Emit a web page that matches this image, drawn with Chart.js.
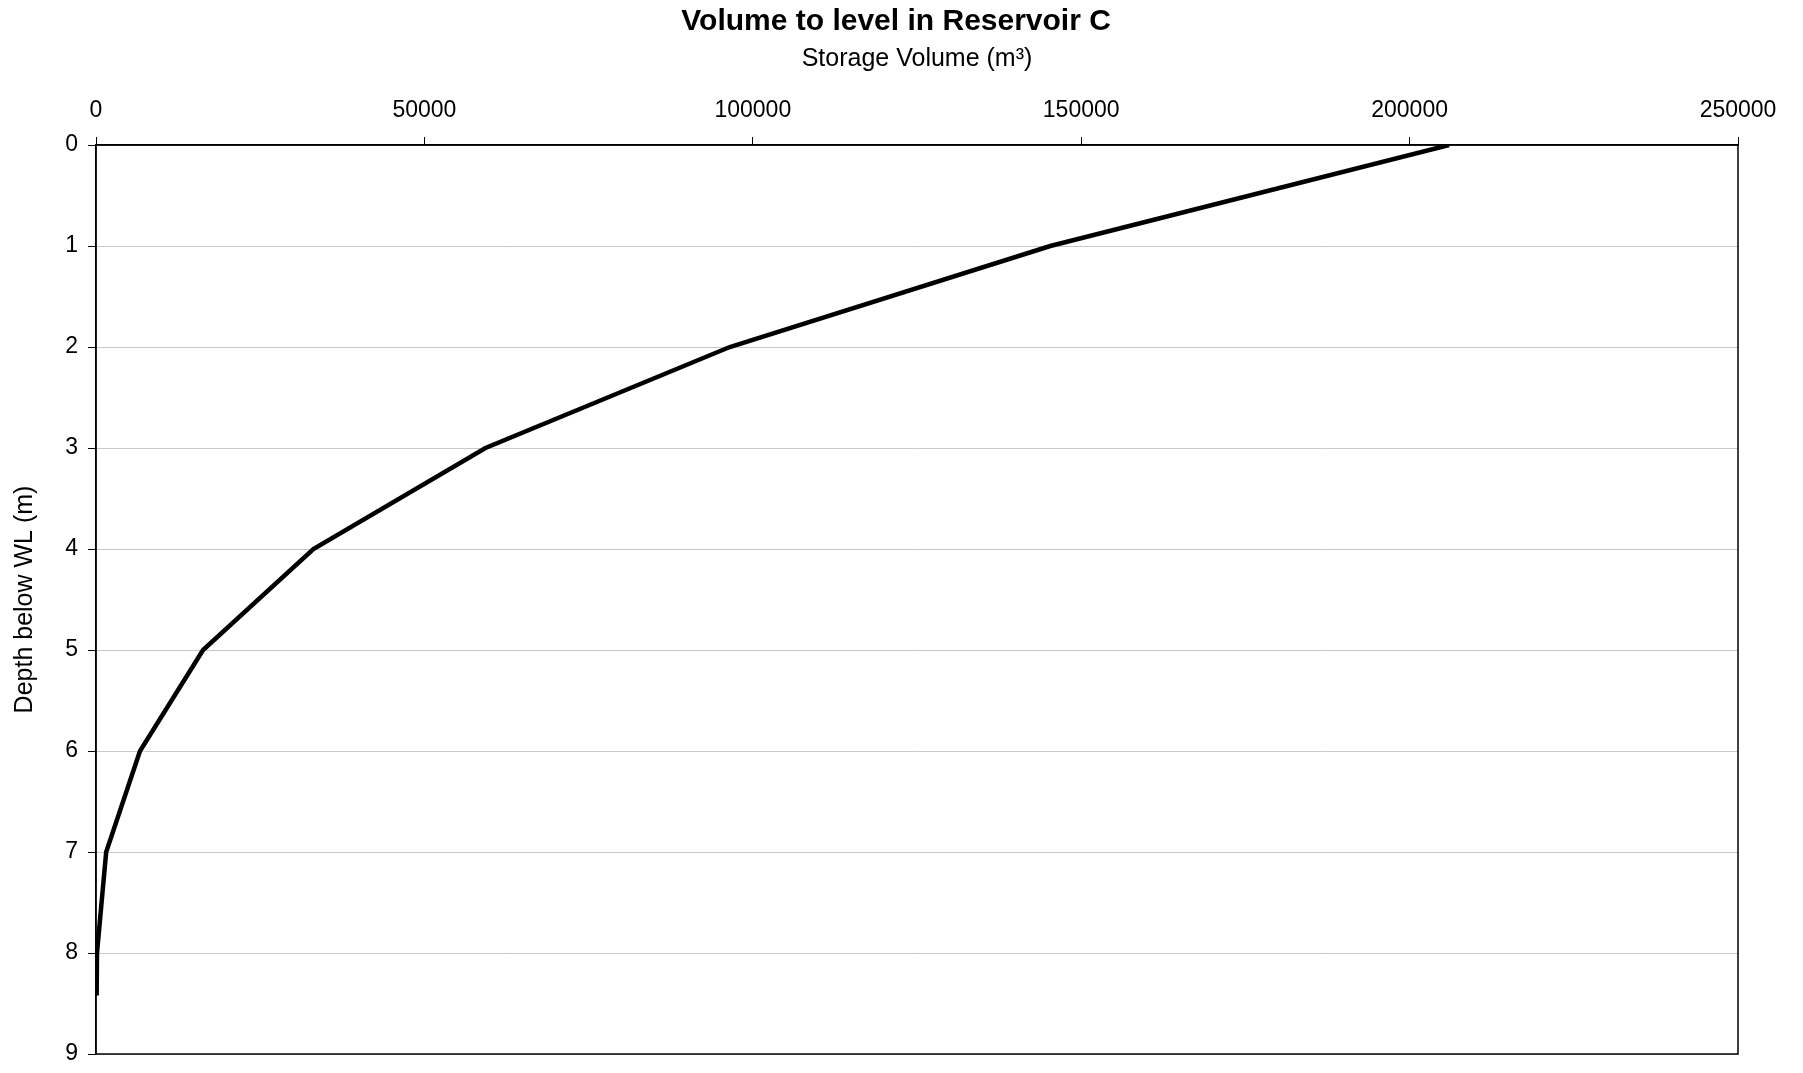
<!DOCTYPE html>
<html>
<head>
<meta charset="utf-8">
<script src="https://cdn.jsdelivr.net/npm/chart.js@4/dist/chart.umd.min.js"></script>
<style>
  html, body { margin: 0; padding: 0; background: #fff; }
  #wrap { width: 1803px; height: 1073px; }
</style>
</head>
<body>
<div id="wrap"><canvas id="c" width="1803" height="1073"></canvas></div>
<script>
const chartTitle = "Volume to level in Reservoir C";
const xAxisTitle = "Storage Volume (m³)";
const yAxisTitle = "Depth below WL (m)";
const depths = [0, 1, 2, 3, 4, 5, 6, 7, 8, 8.42];
const volumes = [206000, 145300, 96500, 59300, 33100, 16300, 6700, 1550, 150, 100];
const xTicks = [0, 50000, 100000, 150000, 200000, 250000];
const yTicks = [0, 1, 2, 3, 4, 5, 6, 7, 8, 9];

const FONT = "'Liberation Sans', Arial, sans-serif";

const titlesPlugin = {
  id: 'titles',
  afterDraw(chart) {
    const ctx = chart.ctx;
    const a = chart.chartArea;
    ctx.save();
    ctx.strokeStyle = '#000';
    ctx.lineWidth = 1.5;
    ctx.strokeRect(a.left, a.top, a.right - a.left, a.bottom - a.top);
    ctx.fillStyle = '#000';
    ctx.textAlign = 'center';
    ctx.textBaseline = 'middle';
    ctx.font = "bold 30px " + FONT;
    ctx.fillText(chartTitle, chart.width * 0.497, 22);
    ctx.font = "25px " + FONT;
    ctx.fillText(xAxisTitle, (a.left + a.right) / 2, 59);
    ctx.translate(25, (a.top + a.bottom) / 2);
    ctx.rotate(-Math.PI / 2);
    ctx.font = "25px " + FONT;
    ctx.fillText(yAxisTitle, 0, 0);
    ctx.restore();
  }
};

new Chart(document.getElementById('c'), {
  type: 'line',
  data: {
    datasets: [{
      data: depths.map((d, i) => ({ x: volumes[i], y: d })),
      borderColor: '#000',
      borderWidth: 4.5,
      pointRadius: 0,
      tension: 0,
      fill: false
    }]
  },
  options: {
    responsive: false,
    animation: false,
    layout: { padding: { left: 0, top: 0, right: 65, bottom: 19 } },
    plugins: { legend: { display: false }, title: { display: false }, tooltip: { enabled: false } },
    scales: {
      x: {
        type: 'linear',
        position: 'top',
        min: 0, max: 250000,
        afterBuildTicks(s) { s.ticks = xTicks.map(v => ({ value: v })); },
        afterFit(s) { s.height = 145; s.paddingLeft = 0; s.paddingRight = 0; },
        ticks: {
          color: '#000',
          font: { family: FONT, size: 23 },
          padding: 13,
          maxRotation: 0,
          callback: v => String(v)
        },
        grid: { display: true, drawOnChartArea: false, drawTicks: true, tickLength: 8, color: '#000', lineWidth: 1 },
        border: { display: true, color: '#000', width: 1.5 }
      },
      y: {
        type: 'linear',
        reverse: true,
        min: 0, max: 9,
        afterBuildTicks(s) { s.ticks = yTicks.map(v => ({ value: v })); },
        afterFit(s) { s.width = 96; s.paddingTop = 0; s.paddingBottom = 0; },
        ticks: {
          color: '#000',
          font: { family: FONT, size: 23 },
          padding: 10,
          callback: v => String(v)
        },
        grid: { display: true, drawOnChartArea: true, drawTicks: true, tickLength: 8, color: '#c8c8c8', tickColor: '#000', lineWidth: 1 },
        border: { display: true, color: '#000', width: 1.5 }
      }
    }
  },
  plugins: [titlesPlugin]
});
</script>
</body>
</html>
